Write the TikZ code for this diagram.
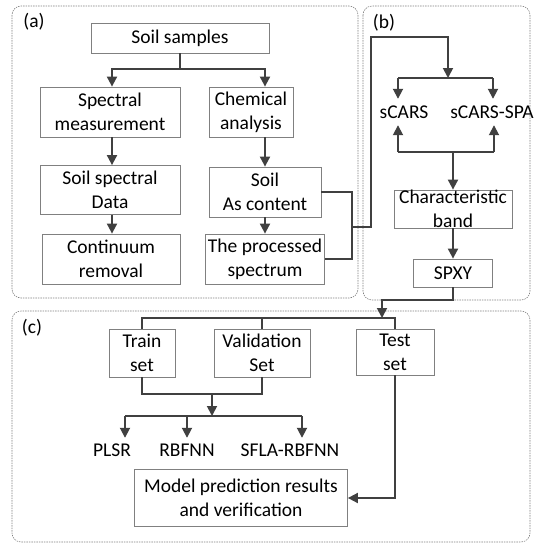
\documentclass[tikz,border=0pt]{standalone}
\usepackage{fontspec}
\setmainfont{Carlito}
\usetikzlibrary{arrows.meta}
\definecolor{boxGray}{RGB}{128,128,128}
\definecolor{lineGray}{RGB}{64,64,64}
\begin{document}
\begin{tikzpicture}[x=1pt, y=-1pt, boxStyle/.style={rectangle, draw=boxGray, line width=0.8pt, align=center, inner sep=0pt, font=\fontsize{19.5}{24}\selectfont}, textStyle/.style={inner sep=0pt, minimum height=26pt, font=\fontsize{19.5}{24}\selectfont}, panelStyle/.style={draw=boxGray, line width=0.6pt, dash pattern=on 1.5pt off 1pt, rounded corners=9pt}, lineStyle/.style={draw=lineGray, line width=1.8pt}, arrowStyle/.style={lineStyle, -{Triangle[length=10pt, width=10pt]}}]
                    \useasboundingbox (0,0) rectangle (545,550);
                    \draw[panelStyle] ( 12,   6) rectangle (358, 298);
                    \draw[panelStyle] (363,   6) rectangle (530, 300);
                    \draw[panelStyle] ( 12, 311) rectangle (530, 542);
                    \node[textStyle] (lab_a) at ( 34,  22) {(a)};
                    \node[textStyle] (lab_b) at (384,  23) {(b)};
                    \node[textStyle] (lab_c) at ( 32, 328) {(c)};

                    \node[boxStyle, minimum width=178pt, minimum height=30pt] (samples)   at (180,  38) {Soil samples};
                    \node[boxStyle, minimum width=140pt, minimum height=50pt] (measure)   at (110, 112) {Spectral\\measurement};
                    \node[boxStyle, minimum width=84pt,  minimum height=50pt] (chem)      at (251, 112) {Chemical\\analysis};
                    \node[boxStyle, minimum width=140pt, minimum height=49pt] (specdata)  at (110, 190) {Soil spectral\\Data};
                    \node[boxStyle, minimum width=138pt, minimum height=50pt] (contrem)   at (111, 259) {Continuum\\removal};
                    \node[boxStyle, minimum width=112pt, minimum height=50pt] (ascont)    at (265, 192) {Soil\\As content};
                    \node[boxStyle, minimum width=119pt, minimum height=50pt] (processed) at (265, 259) {The processed\\spectrum};

                    \node[textStyle] (scars)    at (404, 112) {sCARS};
                    \node[textStyle] (scarsspa) at (492, 112) {sCARS-SPA};
                    \node[boxStyle, minimum width=118pt, minimum height=38pt] (band) at (453, 209) {Characteristic\\band};
                    \node[boxStyle, minimum width=79pt,  minimum height=28pt] (spxy) at (453, 273) {SPXY};

                    \node[boxStyle, minimum width=66pt,  minimum height=48pt] (train) at (142, 353) {Train\\set};
                    \node[boxStyle, minimum width=96pt,  minimum height=48pt] (valid) at (262, 353) {Validation\\Set};
                    \node[boxStyle, minimum width=78pt,  minimum height=46pt] (test)  at (395, 352) {Test\\set};
                    \node[textStyle, minimum height=24pt] (plsr)  at (112, 450) {PLSR};
                    \node[textStyle, minimum height=24pt] (rbfnn) at (187, 450) {RBFNN};
                    \node[textStyle, minimum height=24pt] (sfla)  at (290, 450) {SFLA-RBFNN};
                    \node[boxStyle, minimum width=213pt, minimum height=57pt] (model) at (241, 498) {Model prediction results\\and verification};

                    \coordinate (j1) at (180,  69);
                    \coordinate (k1) at (352, 227);
                    \coordinate (k2) at (371,  37);
                    \coordinate (f0) at (448,  78);
                    \coordinate (f1) at (398,  78);
                    \coordinate (f2) at (493,  78);
                    \coordinate (g1) at (398, 152);
                    \coordinate (g2) at (494, 152);
                    \coordinate (d1) at (382, 300);
                    \coordinate (d2) at (382, 318);
                    \coordinate (e1) at (212, 394);
                    \coordinate (e2) at (212, 416);
                    \coordinate (h1) at (125, 416);
                    \coordinate (h3) at (302, 416);

                    \draw[lineStyle]  (samples.south) -- (j1);
                    \draw[arrowStyle] (j1) -| ([xshift=2pt]measure.north);
                    \draw[arrowStyle] (j1) -| (chem.north -| ascont);
                    \draw[arrowStyle] ([xshift=2pt]measure.south) -- ([xshift=2pt]specdata.north);
                    \draw[arrowStyle] ([xshift=2pt]specdata.south) -- ([xshift=1pt]contrem.north);
                    \draw[arrowStyle] (chem.south -| ascont) -- (ascont);
                    \draw[arrowStyle] (ascont) -- (processed);
                    \draw[lineStyle]  (ascont.east) -| (k1) |- (processed.east);
                    \draw[arrowStyle] (k1) -| (k2) -| (f0);

                    \draw[lineStyle]  (f1) -- (f2);
                    \draw[arrowStyle] (f1) -- (f1 |- scars.north);
                    \draw[arrowStyle] (f2) -- (f2 |- scarsspa.north);
                    \draw[lineStyle]  (g1) -- (g2);
                    \draw[arrowStyle] (g1) -- (g1 |- scars.south);
                    \draw[arrowStyle] (g2) -- (g2 |- scarsspa.south);
                    \draw[arrowStyle] (g1 -| band) -- (band);
                    \draw[arrowStyle] (band) -- (spxy);
                    \draw[arrowStyle] (spxy.south) |- (d1) -- (d2);

                    \draw[lineStyle]  (train.north) |- (test.north |- d2) -- (test.north);
                    \draw[lineStyle]  (valid.north) -- (valid.north |- d2);
                    \draw[lineStyle]  (train.south) |- (e1) -| (valid.south);
                    \draw[arrowStyle] (e1) -- (e2);
                    \draw[lineStyle]  (h1) -- (h3);
                    \draw[arrowStyle] (h1) -- (h1 |- plsr.north);
                    \draw[arrowStyle] (e2 -| rbfnn) -- (rbfnn.north);
                    \draw[arrowStyle] (h3) -- (h3 |- sfla.north);
                    \draw[arrowStyle] (test.south) |- (model.east);
                \end{tikzpicture}
\end{document}
